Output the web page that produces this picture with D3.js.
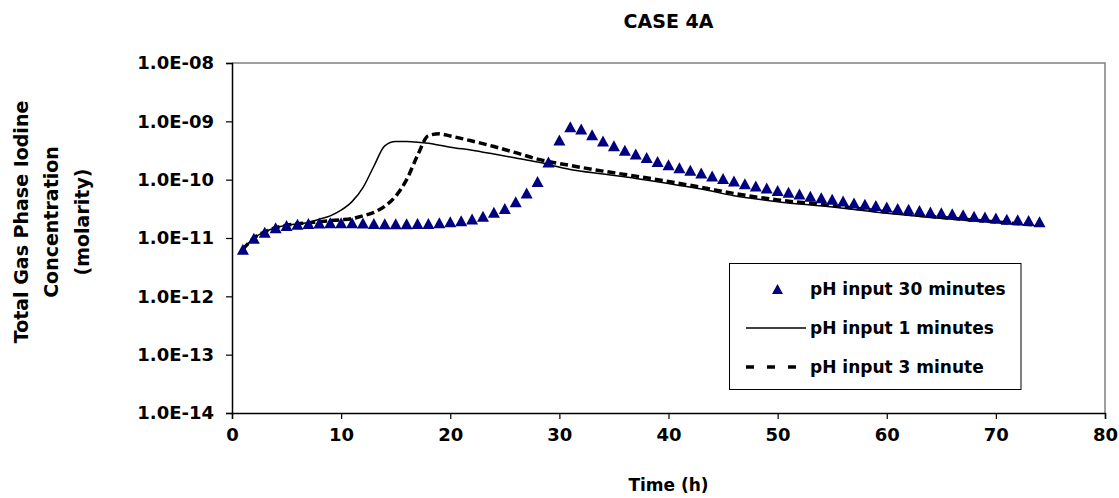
<!DOCTYPE html>
<html><head><meta charset="utf-8">
<script src="https://cdn.jsdelivr.net/npm/d3@7"></script>
<style>
body{margin:0;background:#fff}
svg{display:block}
text{font-family:"DejaVu Sans",sans-serif;font-weight:bold;fill:#000}
</style>
</head><body>
<svg id="chart" width="1119" height="498"></svg>
<script>
const chartTitle = "CASE 4A";
const xTitle = "Time (h)";
const yTitleLines = ["Total Gas Phase Iodine", "Concentration", "(molarity)"];
const seriesNames = ["pH input 30 minutes", "pH input 1 minutes", "pH input 3 minute"];

const xTickValues = [0, 10, 20, 30, 40, 50, 60, 70, 80];
const yTickValues = [1e-14, 1e-13, 1e-12, 1e-11, 1e-10, 1e-9, 1e-8];
const yTickLabels = ["1.0E-14", "1.0E-13", "1.0E-12", "1.0E-11", "1.0E-10", "1.0E-09", "1.0E-08"];

// pH input 30 minutes (triangles), hourly
const triTimes = [1,2,3,4,5,6,7,8,9,10,11,12,13,14,15,16,17,18,19,20,21,22,23,24,25,26,27,28,29,30,31,32,33,34,35,36,37,38,39,40,41,42,43,44,45,46,47,48,49,50,51,52,53,54,55,56,57,58,59,60,61,62,63,64,65,66,67,68,69,70,71,72,73,74];
const triValues = [6.4e-12,9.9e-12,1.26e-11,1.5e-11,1.63e-11,1.72e-11,1.78e-11,1.8e-11,1.82e-11,1.82e-11,1.82e-11,1.8e-11,1.78e-11,1.76e-11,1.76e-11,1.76e-11,1.77e-11,1.78e-11,1.82e-11,1.9e-11,1.98e-11,2.12e-11,2.35e-11,2.75e-11,3.2e-11,4.2e-11,5.9e-11,9.3e-11,2.0e-10,4.8e-10,8.1e-10,7.4e-10,5.9e-10,4.6e-10,3.8e-10,3.2e-10,2.76e-10,2.4e-10,2.05e-10,1.8e-10,1.6e-10,1.45e-10,1.3e-10,1.16e-10,1.05e-10,9.5e-11,8.5e-11,7.8e-11,7.2e-11,6.5e-11,6.1e-11,5.7e-11,5.2e-11,4.9e-11,4.6e-11,4.3e-11,4.0e-11,3.8e-11,3.6e-11,3.4e-11,3.2e-11,3.1e-11,2.95e-11,2.8e-11,2.7e-11,2.6e-11,2.5e-11,2.35e-11,2.3e-11,2.2e-11,2.1e-11,2.05e-11,2.0e-11,1.9e-11];

// pH input 1 minutes (solid line)
const solidTimes = [1,2,3,4,5,6,7,8,9,10,11,12,13,14,15,16,17,18,19,20,22,24,26,28,31,34,37,40,43,46,50,55,60,64,69,74];
const solidValues = [6.4e-12,1.0e-11,1.28e-11,1.5e-11,1.65e-11,1.75e-11,1.85e-11,2.1e-11,2.4e-11,3.0e-11,4.2e-11,7.3e-11,1.7e-10,3.8e-10,4.5e-10,4.5e-10,4.4e-10,4.2e-10,3.9e-10,3.6e-10,3.2e-10,2.75e-10,2.35e-10,2.0e-10,1.5e-10,1.25e-10,1.05e-10,8.6e-11,6.9e-11,5.3e-11,4.2e-11,3.4e-11,2.65e-11,2.25e-11,1.9e-11,1.6e-11];

// pH input 3 minute (dashed line)
const dashTimes = [1,2,3,4,5,6,7,8,9,10,11,12,13,14,15,16,17,18,19,20,22,24,26,28,31,34,37,40,43,46,50,55,60,64,69,74];
const dashValues = [6.4e-12,1.0e-11,1.28e-11,1.5e-11,1.65e-11,1.75e-11,1.82e-11,1.9e-11,1.98e-11,2.05e-11,2.15e-11,2.4e-11,2.75e-11,3.5e-11,5.2e-11,1.0e-10,2.6e-10,5.7e-10,6.1e-10,5.6e-10,4.6e-10,3.7e-10,2.9e-10,2.25e-10,1.75e-10,1.4e-10,1.15e-10,9.3e-11,7.4e-11,5.8e-11,4.5e-11,3.6e-11,2.8e-11,2.35e-11,1.95e-11,1.65e-11];

const svg = d3.select("#chart");
const L = 232, R = 1105, T = 63, B = 413;

const x = d3.scaleLinear().domain([0, 80]).range([L, R]);
const y = d3.scaleLog().domain([1e-14, 1e-8]).range([B, T]);

// plot frame (top/right grey)
svg.append("path")
  .attr("d", `M${L},${T}H${R}V${B}`)
  .attr("fill", "none").attr("stroke", "#808080").attr("stroke-width", 1.5);

// title
svg.append("text").attr("x", (L + R) / 2).attr("y", 28)
  .attr("text-anchor", "middle").style("font-size", "19px").text(chartTitle);

// axes
const xAxis = d3.axisBottom(x).tickValues(xTickValues).tickSize(6).tickPadding(9).tickFormat(d3.format("d"));
const gx = svg.append("g").attr("transform", `translate(0,${B})`).call(xAxis);
const yAxis = d3.axisLeft(y).tickValues(yTickValues).tickSize(6).tickPadding(12)
  .tickFormat((d, i) => yTickLabels[i]);
const gy = svg.append("g").attr("transform", `translate(${L},0)`).call(yAxis);
[gx, gy].forEach(g => {
  g.select(".domain").attr("stroke", "#000").attr("stroke-width", 1.5);
  g.selectAll(".tick line").attr("stroke", "#000").attr("stroke-width", 1.2);
  g.selectAll(".tick text").attr("font-family", null).style("font-size", "18px").attr("fill", "#000");
});

// axis titles
svg.append("text").attr("x", (L + R) / 2).attr("y", 491)
  .attr("text-anchor", "middle").style("font-size", "17px").text(xTitle);
const yTitleX = [21, 51, 82];
yTitleLines.forEach((t, i) => {
  svg.append("text")
    .attr("transform", `translate(${yTitleX[i]},222) rotate(-90)`)
    .attr("text-anchor", "middle").attr("dy", "0.35em")
    .style("font-size", "19px").text(t);
});

// lines
const line = d3.line().x(d => x(d[0])).y(d => y(d[1])).curve(d3.curveMonotoneX);
const solidData = solidTimes.map((t, i) => [t, solidValues[i]]);
const dashData = dashTimes.map((t, i) => [t, dashValues[i]]);
svg.append("path").datum(solidData).attr("d", line)
  .attr("fill", "none").attr("stroke", "#000").attr("stroke-width", 1.5);
svg.append("path").datum(dashData).attr("d", line)
  .attr("fill", "none").attr("stroke", "#000").attr("stroke-width", 3.5)
  .attr("stroke-dasharray", "8,4");

// triangles
const tri = "M0,-5.5L6,5.5L-6,5.5Z";
svg.append("g").selectAll("path").data(triTimes.map((t, i) => [t, triValues[i]]))
  .join("path")
  .attr("d", tri)
  .attr("transform", d => `translate(${x(d[0])},${y(d[1])})`)
  .attr("fill", "#000080");

// legend
const lg = svg.append("g");
lg.append("rect").attr("x", 729.5).attr("y", 263.5).attr("width", 291.5).attr("height", 126)
  .attr("fill", "#fff").attr("stroke", "#000").attr("stroke-width", 1);
const rowY = [289, 328, 367];
lg.append("path").attr("d", "M0,-5L5.5,5L-5.5,5Z")
  .attr("transform", `translate(777.5,${rowY[0]})`).attr("fill", "#000080");
lg.append("line").attr("x1", 746).attr("x2", 806).attr("y1", rowY[1]).attr("y2", rowY[1])
  .attr("stroke", "#000").attr("stroke-width", 1.5);
lg.append("line").attr("x1", 746).attr("x2", 806).attr("y1", rowY[2]).attr("y2", rowY[2])
  .attr("stroke", "#000").attr("stroke-width", 3.5).attr("stroke-dasharray", "8,13");
seriesNames.forEach((s, i) => {
  lg.append("text").attr("x", 810).attr("y", rowY[i] + 6)
    .style("font-size", "17px").text(s);
});
</script>
</body></html>
